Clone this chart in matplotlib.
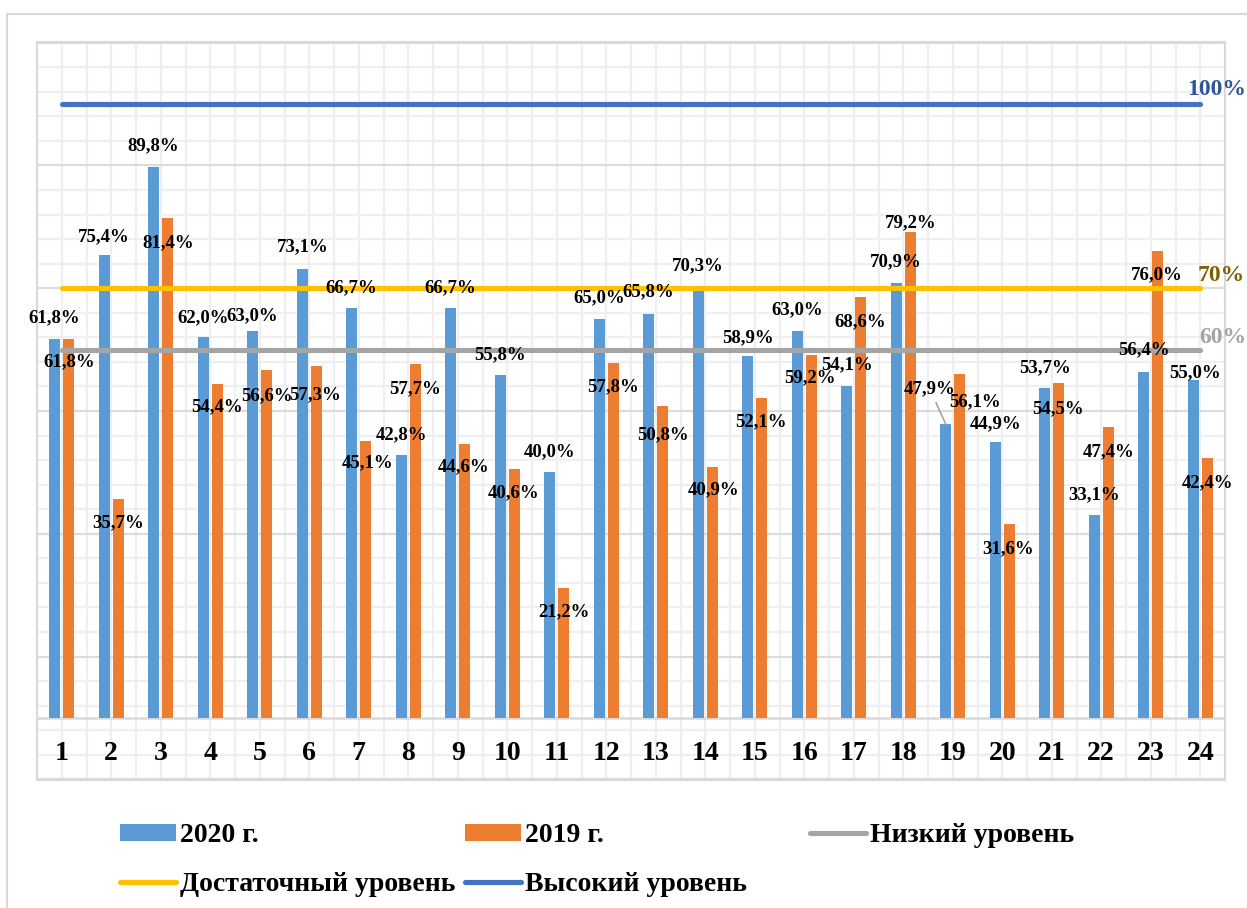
import matplotlib
matplotlib.use('Agg')
import matplotlib.pyplot as plt
from matplotlib.patches import Rectangle
import numpy as np

plt.rcParams['font.family'] = ['Liberation Serif', 'DejaVu Serif']
plt.rcParams['font.weight'] = 'bold'

# ---------------- data ----------------
categories = [str(i) for i in range(1, 25)]
values_2020 = [61.8, 75.4, 89.8, 62.0, 63.0, 73.1, 66.7, 42.8, 66.7, 55.8, 40.0, 65.0,
               65.8, 70.3, 58.9, 63.0, 54.1, 70.9, 47.9, 44.9, 53.7, 33.1, 56.4, 55.0]
values_2019 = [61.8, 35.7, 81.4, 54.4, 56.6, 57.3, 45.1, 57.7, 44.6, 40.6, 21.2, 57.8,
               50.8, 40.9, 52.1, 59.2, 68.6, 79.2, 56.1, 31.6, 54.5, 47.4, 76.0, 42.4]
series_names = ['2020 г.', '2019 г.']
level_values = [60, 70, 100]
level_names = ['Низкий уровень', 'Достаточный уровень', 'Высокий уровень']
level_texts = ['60%', '70%', '100%']

# ---------------- styles / label placement (pixels) ----------------
bar_colors = ['#5B9BD5', '#ED7D31']
level_colors = ['#A5A5A5', '#FFC000', '#4472C4']
level_text_colors = ['#A5A5A5', '#7F6000', '#2F5597']
level_text_offsets = [(-1.5, 12), (-2.5, 13), (-13.5, 15)]
offsets_2020 = [(0, 21), (0, 18), (0, 21), (0, 20), (0, 15), (1, 22), (0, 21), (0, 20),
                (0, 21), (0, 21), (0, 21), (0, 21), (0, 22), (0, 21), (0, 19), (0, 21),
                (0, 21), (0, 21), (-16, 35), (0, 19), (0, 21), (0, 20), (0, 22), (2, 8)]
offsets_2019 = [(0, -23), (0, -24), (0, -25), (0, -23), (0, -25), (-1, -29), (2, -22),
                (0, -25), (-1, -23), (-1, -24), (0, -24), (0, -24), (0, -29), (1, -23),
                (-1, -24), (-1, -23), (-1, -25), (0, 9), (15, -28), (-1, -25), (-1, -25),
                (0, -25), (-1, -23), (0, -25)]

W, H = 1247, 908
fig = plt.figure(figsize=(W / 100, H / 100), dpi=100)
fig.patch.set_facecolor('white')
# outer chart border
fig.patches.append(Rectangle((7 / W, -0.1), 1.2, (1 - 14 / H) + 0.1, fill=False,
                             edgecolor='#D9D9D9', lw=1.5, transform=fig.transFigure))

ax = fig.add_axes([37 / W, 1 - 780 / H, (1225 - 37) / W, (780 - 42) / H])
x = np.arange(1, len(categories) + 1)
ax.set_xlim(0.5, len(categories) + 0.5)
ax.set_ylim(-10.1, 110.1)

# graph-paper grid
ax.set_yticks(np.arange(-10, 111, 20))
ax.set_yticks(np.arange(-10, 111, 4), minor=True)
ax.set_xticks(np.arange(0.5, len(categories) + 0.51, 0.5))
ax.set_xticks([], minor=True)
ax.grid(which='minor', axis='y', color='#EFEFEF', lw=1.6, zorder=0)
ax.grid(which='major', axis='y', color='#DCDCDC', lw=1.6, zorder=0)
ax.grid(which='major', axis='x', color='#EFEFEF', lw=1.6, zorder=0)
ax.set_axisbelow(True)
ax.tick_params(which='both', length=0, labelleft=False, labelbottom=False)
for s in ax.spines.values():
    s.set_color('#D9D9D9')
    s.set_linewidth(1.5)
ax.axhline(0, color='#D9D9D9', lw=1.8, zorder=1)

bw = 0.222
sh = 0.143
b1 = ax.bar(x - sh, values_2020, width=bw, color=bar_colors[0], zorder=2, label=series_names[0])
b2 = ax.bar(x + sh, values_2019, width=bw, color=bar_colors[1], zorder=2, label=series_names[1])

lines = []
for v, c, name in zip(level_values, level_colors, level_names):
    ln, = ax.plot([x[0], x[-1]], [v, v], color=c, lw=3.7, solid_capstyle='round',
                  zorder=3, label=name)
    lines.append(ln)

for v, t, c, (dx, dy) in zip(level_values, level_texts, level_text_colors, level_text_offsets):
    ax.annotate(t, xy=(x[-1], v), xytext=(dx, dy), textcoords='offset pixels',
                ha='left', va='center', fontsize=17, fontweight='bold', color=c, zorder=5)

def fmt(v):
    return f'{v:.1f}'.replace('.', ',') + '%'

for xi, v, (dx, dy) in zip(x - sh, values_2020, offsets_2020):
    kw = {}
    if abs(dx) > 10:
        kw['arrowprops'] = dict(arrowstyle='-', color='#A5A5A5', lw=1.2,
                                shrinkA=2, shrinkB=0)
    ax.annotate(fmt(v), xy=(xi, v), xytext=(dx, dy), textcoords='offset pixels',
                ha='center', va='center', fontsize=13.5, fontweight='bold',
                color='black', zorder=5, **kw)
for xi, v, (dx, dy) in zip(x + sh, values_2019, offsets_2019):
    ax.annotate(fmt(v), xy=(xi, v), xytext=(dx, dy), textcoords='offset pixels',
                ha='center', va='center', fontsize=13.5, fontweight='bold',
                color='black', zorder=5)

# category labels inside the grid area
for xi, lab in zip(x, categories):
    ax.text(xi, -6.9, lab, ha='center', va='baseline', fontsize=20,
            fontweight='bold', color='black', zorder=5)

# legend in three columns
leg_kw = dict(frameon=False, borderpad=0, borderaxespad=0, handlelength=2.0,
              handletextpad=0.17, handleheight=0.53, labelspacing=0.85,
              prop={'size': 20, 'weight': 'bold'}, loc='center left')
fig.legend([b1, lines[1]], [series_names[0], level_names[1]],
           bbox_to_anchor=(120 / W, 1 - 860 / H), **leg_kw)
fig.legend([b2, lines[2]], [series_names[1], level_names[2]],
           bbox_to_anchor=(465 / W, 1 - 860 / H), **leg_kw)
fig.legend([lines[0]], [level_names[0]],
           bbox_to_anchor=(810 / W, 1 - 836 / H), **leg_kw)

fig.savefig('out.png', dpi=100, facecolor='white')
